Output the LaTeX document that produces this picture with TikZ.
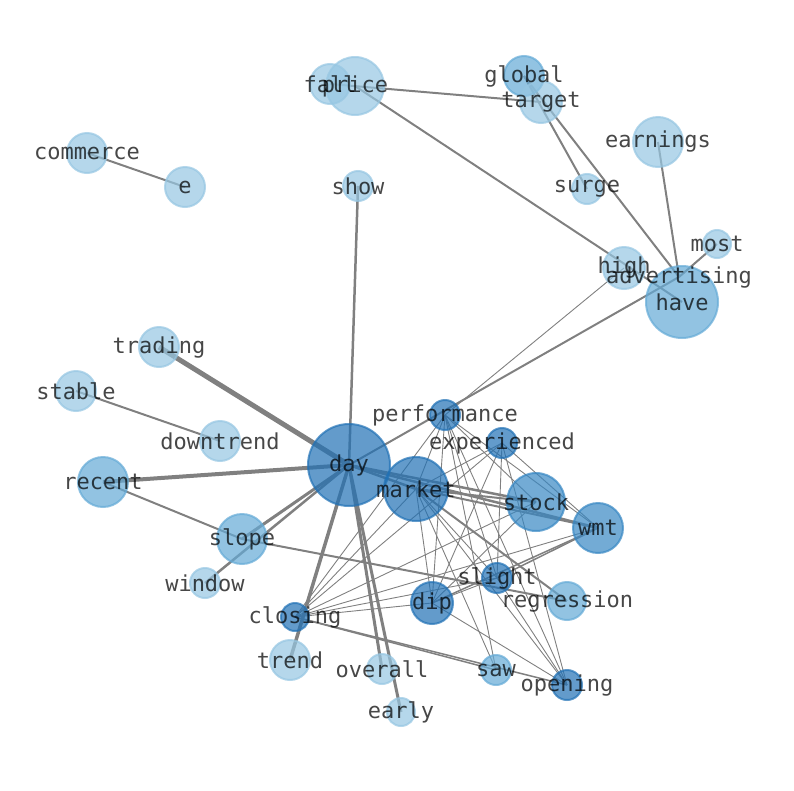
\documentclass[tikz,border=0pt]{standalone}
\usepackage{fontspec}
\setmonofont{DejaVu Sans Mono}
\usetikzlibrary{backgrounds}
\definecolor{blueA}{RGB}{33,113,181}
\definecolor{blueB}{RGB}{55,135,195}
\definecolor{blueC}{RGB}{100,170,214}
\definecolor{blueD}{RGB}{150,198,226}
\definecolor{edgegray}{RGB}{128,128,128}
\tikzset{
  vtx/.style={circle, draw=#1, fill=#1, fill opacity=0.7, draw opacity=0.7,
    line width=2pt, inner sep=0pt},
  wlabel/.style={font=\ttfamily\fontsize{22}{22}\selectfont, text=black,
    text opacity=0.72, inner sep=0pt},
  link/.style={draw=edgegray, line width=#1},
}
\begin{document}
\begin{tikzpicture}[x=1pt, y=-1pt]
\useasboundingbox (0,0) rectangle (794,790);
% word nodes
\foreach \n/\x/\y/\r/\c in {
  day/349/465/41/blueA, market/416/489/32/blueA, stock/536/502/29/blueB,
  wmt/598/528/25/blueB, performance/445/415/15/blueA, experienced/502/443/15/blueA,
  slight/497/578/15/blueA, dip/432/603/21/blueA, regression/567/601/19/blueC,
  closing/295/617/14/blueA, saw/496/670/15/blueC, opening/567/685/15/blueA,
  overall/382/669/15/blueD, trend/290/660/20/blueD, early/401/712/14/blueD,
  slope/242/539/25/blueC, window/205/583/15/blueD, recent/103/482/25/blueC,
  downtrend/220/441/20/blueD, stable/76/391/20/blueD, trading/159/347/20/blueD,
  commerce/87/153/20/blueD, e/185/187/20/blueD, show/358/186/15/blueD,
  fall/330/84/20/blueD, price/355/86/29/blueD, global/524/76/20/blueC,
  target/541/102/21/blueD, earnings/658/142/25/blueD, surge/587/189/15/blueD,
  most/717/244/14/blueD, high/624/268/21/blueD, have/682/302/36/blueC}
  \node[vtx=\c, minimum size={2*\r pt}] (\n) at (\x,\y) {};
\coordinate (advertising) at (679,277);
% connectors
\begin{scope}[on background layer]
\foreach \a/\b/\w in {
  trading/day/5, recent/day/4, day/trend/3.5, day/overall/3, day/early/3,
  slope/day/3, window/day/2.5, show/day/2.5, day/advertising/2,
  day/market/2.5, day/stock/2.5, day/wmt/2.5, market/stock/2, market/wmt/2,
  market/regression/2, slope/regression/2, recent/slope/2, stable/downtrend/2,
  commerce/e/2, fall/target/2, price/have/2, global/surge/2,
  global/advertising/2, earnings/advertising/2, most/advertising/2,
  closing/saw/1.5, closing/opening/1.5, wmt/slight/1.5, wmt/dip/1.5}
  \draw[link=\w pt] (\a.center) -- (\b.center);
\foreach \a/\b in {
  high/performance, performance/closing, performance/dip, performance/slight,
  performance/saw, performance/opening, performance/wmt, performance/stock,
  performance/market, experienced/closing, experienced/dip, experienced/slight,
  experienced/opening, experienced/wmt, experienced/market, closing/market,
  closing/stock, closing/dip, closing/slight, closing/wmt, dip/stock,
  dip/slight, dip/opening, dip/market, slight/opening, slight/market,
  saw/market, opening/market}
  \draw[link=0.9pt] (\a.center) -- (\b.center);
\end{scope}
% word labels
\foreach \n in {day, market, stock, wmt, performance, experienced, slight, dip,
  regression, closing, saw, opening, overall, trend, early, slope, window,
  recent, downtrend, stable, trading, commerce, e, show, fall, price, global,
  target, earnings, surge, most, high, advertising, have}
  \node[wlabel] at (\n) {\n};
\end{tikzpicture}
\end{document}
